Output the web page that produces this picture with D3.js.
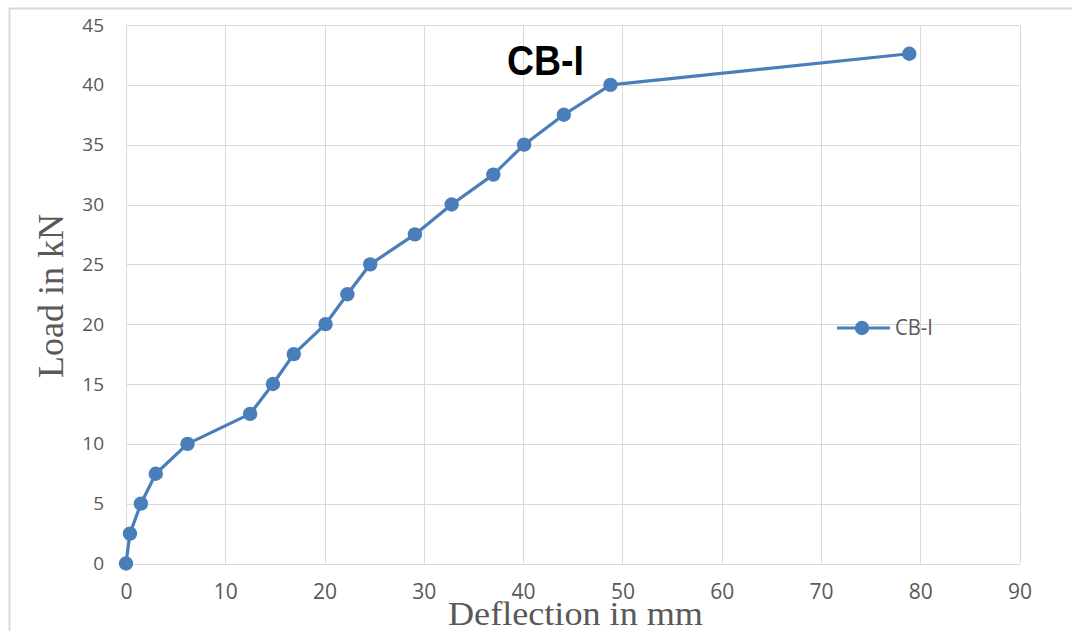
<!DOCTYPE html>
<html>
<head>
<meta charset="utf-8">
<script src="https://cdn.jsdelivr.net/npm/d3@7"></script>
<style>
html,body{margin:0;padding:0;background:#fff;}
svg{display:block;}
</style>
</head>
<body>
<svg id="chart" width="1072" height="631"></svg>
<script>
const deflection = [0, 0.4, 1.5, 3.0, 6.2, 12.5, 14.8, 16.9, 20.1, 22.3, 24.6, 29.1, 32.8, 37.0, 40.1, 44.1, 48.8, 78.9];
const load       = [0, 2.5, 5.0, 7.5, 10.0, 12.5, 15.0, 17.5, 20.0, 22.5, 25.0, 27.5, 30.0, 32.5, 35.0, 37.5, 40.0, 42.6];
const xTicks = [0, 10, 20, 30, 40, 50, 60, 70, 80, 90];
const yTicks = [0, 5, 10, 15, 20, 25, 30, 35, 40, 45];
const seriesName = "CB-I";
const titleText = "CB-I";
const xTitle = "Deflection in mm";
const yTitle = "Load in kN";

const svg = d3.select("#chart");
const pLeft = 126, pRight = 1019.5, pTop = 25, pBottom = 563.5;
const blue = "#4a7ebb";
const gray = "#595959";

// outer chart border
svg.append("rect").attr("x", 9.5).attr("y", 8.5).attr("width", 1100).attr("height", 700)
  .attr("fill", "#fff").attr("stroke", "#d9d9d9").attr("stroke-width", 2);

const x = d3.scaleLinear().domain([0, 90]).range([pLeft, pRight]);
const y = d3.scaleLinear().domain([0, 45]).range([pBottom, pTop]);

// gridlines
svg.append("g").selectAll("line").data(xTicks).join("line")
  .attr("x1", d => Math.round(x(d)) + 0.5).attr("x2", d => Math.round(x(d)) + 0.5)
  .attr("y1", pTop).attr("y2", pBottom)
  .attr("stroke", "#d9d9d9").attr("stroke-width", 1);
svg.append("g").selectAll("line").data(yTicks).join("line")
  .attr("x1", pLeft).attr("x2", pRight)
  .attr("y1", d => Math.round(y(d)) + 0.5).attr("y2", d => Math.round(y(d)) + 0.5)
  .attr("stroke", "#d9d9d9").attr("stroke-width", 1);

// axes (labels only)
const xAxis = svg.append("g").attr("transform", `translate(0,${pBottom})`)
  .call(d3.axisBottom(x).tickValues(xTicks).tickSize(0).tickPadding(21));
xAxis.select(".domain").remove();
xAxis.selectAll("text").attr("fill", gray).attr("font-family", "'Open Sans', sans-serif").attr("font-size", 21);

const yAxis = svg.append("g").attr("transform", `translate(${pLeft},0)`)
  .call(d3.axisLeft(y).tickValues(yTicks).tickSize(0).tickPadding(22));
yAxis.select(".domain").remove();
yAxis.selectAll("text").attr("fill", gray).attr("font-family", "'Open Sans', sans-serif").attr("font-size", 19);

// axis titles
svg.append("text").attr("x", 448).attr("y", 625)
  .attr("font-family", "'Liberation Serif', 'Times New Roman', serif").attr("font-size", 33)
  .attr("textLength", 255).attr("lengthAdjust", "spacingAndGlyphs")
  .attr("fill", gray).text(xTitle);
svg.append("text").attr("transform", "translate(63,296) rotate(-90)").attr("text-anchor", "middle")
  .attr("font-family", "'Liberation Serif', 'Times New Roman', serif").attr("font-size", 36)
  .attr("fill", gray).text(yTitle);

// title
svg.append("text").attr("x", 507).attr("y", 75)
  .attr("font-family", "'Liberation Sans Narrow', 'Liberation Sans', Arial, sans-serif")
  .attr("font-weight", "bold").attr("font-size", 42)
  .attr("textLength", 77).attr("lengthAdjust", "spacingAndGlyphs")
  .attr("fill", "#000").text(titleText);

// series line
const pts = deflection.map((d, i) => [d, load[i]]);
svg.append("path").datum(pts)
  .attr("fill", "none").attr("stroke", blue).attr("stroke-width", 3.2).attr("stroke-linejoin", "round")
  .attr("d", d3.line().x(d => x(d[0])).y(d => y(d[1])));
svg.append("g").selectAll("circle").data(pts).join("circle")
  .attr("cx", d => x(d[0])).attr("cy", d => y(d[1])).attr("r", 7.2)
  .attr("fill", blue);

// legend
const lg = svg.append("g");
lg.append("line").attr("x1", 837).attr("x2", 890).attr("y1", 328).attr("y2", 328)
  .attr("stroke", blue).attr("stroke-width", 3.2);
lg.append("circle").attr("cx", 862).attr("cy", 328).attr("r", 7.2).attr("fill", blue);
lg.append("text").attr("x", 895).attr("y", 335)
  .attr("font-family", "'Liberation Sans Narrow', 'Open Sans', sans-serif").attr("font-size", 22)
  .attr("textLength", 38).attr("lengthAdjust", "spacingAndGlyphs")
  .attr("fill", gray).text(seriesName);
</script>
</body>
</html>
